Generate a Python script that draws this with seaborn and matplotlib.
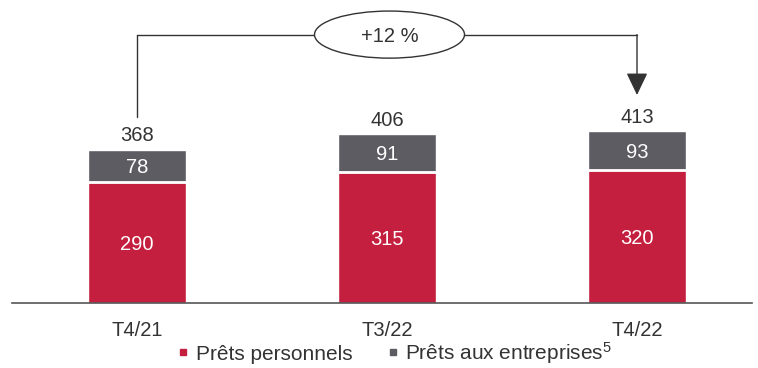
import matplotlib
matplotlib.use("Agg")
import matplotlib.pyplot as plt
from matplotlib.patches import Ellipse
from matplotlib.lines import Line2D
import seaborn as sns
import pandas as pd

categories = ["T4/21", "T3/22", "T4/22"]
prets_personnels = [290, 315, 320]
prets_entreprises = [78, 91, 93]
totaux = [368, 406, 413]
variation = "+12 %"
legend_labels = ["Prêts personnels", r"Prêts aux entreprises$^{\mathregular{5}}$"]

RED = "#C41F3E"
GREY = "#5D5C63"
TXT = "#333333"

sns.set_theme(style="white")
plt.rcParams["font.family"] = ["Liberation Sans", "DejaVu Sans"]
plt.rcParams["mathtext.fontset"] = "custom"
plt.rcParams["mathtext.rm"] = "Liberation Sans"
plt.rcParams["mathtext.it"] = "Liberation Sans:italic"

df = pd.DataFrame({"cat": categories, "perso": prets_personnels,
                   "entr": prets_entreprises, "total": totaux})

W, H = 758, 368
fig = plt.figure(figsize=(W / 100, H / 100), dpi=100)
ax = fig.add_axes([12 / W, (H - 303) / H, 740 / W, 303 / H])

width = 0.39
sns.barplot(data=df, x="cat", y="total", color=GREY, saturation=1, width=width, ax=ax)
sns.barplot(data=df, x="cat", y="perso", color=RED, saturation=1, width=width, ax=ax)
xs = range(len(categories))
ax.hlines(df["perso"], [x - width / 2 for x in xs], [x + width / 2 for x in xs],
          color="white", lw=2, zorder=5)

ax.set_xlim(-0.5, 2.46)
ax.set_ylim(0, 727)
for s in ["top", "right", "left"]:
    ax.spines[s].set_visible(False)
ax.spines["bottom"].set_color("#555555")
ax.spines["bottom"].set_linewidth(1.2)
ax.set_yticks([])
ax.set_xlabel("")
ax.set_ylabel("")
ax.tick_params(axis="x", length=0, pad=13, labelsize=14.5, labelcolor=TXT)

FS = 14.5
for i, (p, e, t) in enumerate(zip(prets_personnels, prets_entreprises, totaux)):
    ax.text(i, p / 2, f"{p}", ha="center", va="center_baseline", color="white", fontsize=FS)
    ax.text(i, p + e / 2, f"{e}", ha="center", va="center_baseline", color="white", fontsize=FS)
    ax.text(i, t + 10, f"{t}", ha="center", va="bottom", color=TXT, fontsize=FS)

# growth annotation
y_line = 644
ax.plot([0, 0], [totaux[0] + 78, y_line], color="#333333", lw=1, clip_on=False)
ax.plot([0, 2], [y_line, y_line], color="#333333", lw=1, clip_on=False, zorder=3)
ax.annotate("", xy=(2, totaux[2] + 86), xytext=(2, y_line),
            arrowprops=dict(arrowstyle="-|>,head_length=1.15,head_width=0.55",
                            color="#333333", lw=1, shrinkA=0, shrinkB=0),
            annotation_clip=False)
ell = Ellipse((1.01, y_line), 0.6, 113, facecolor="white", edgecolor="#333333",
              lw=1, zorder=4, clip_on=False)
ax.add_patch(ell)
ax.text(1.01, y_line, variation, ha="center", va="center_baseline", color=TXT,
        fontsize=FS, zorder=5)

handles = [Line2D([], [], marker="s", ls="", color=RED, markersize=5),
           Line2D([], [], marker="s", ls="", color=GREY, markersize=5)]
fig.legend(handles, legend_labels, loc="center", bbox_to_anchor=(393 / W, 1 - 353 / H),
           ncol=2, frameon=False, fontsize=15, handletextpad=0.15, handlelength=0.9,
           columnspacing=1.5, labelcolor=TXT, borderpad=0)

fig.savefig("out.png", dpi=100)
